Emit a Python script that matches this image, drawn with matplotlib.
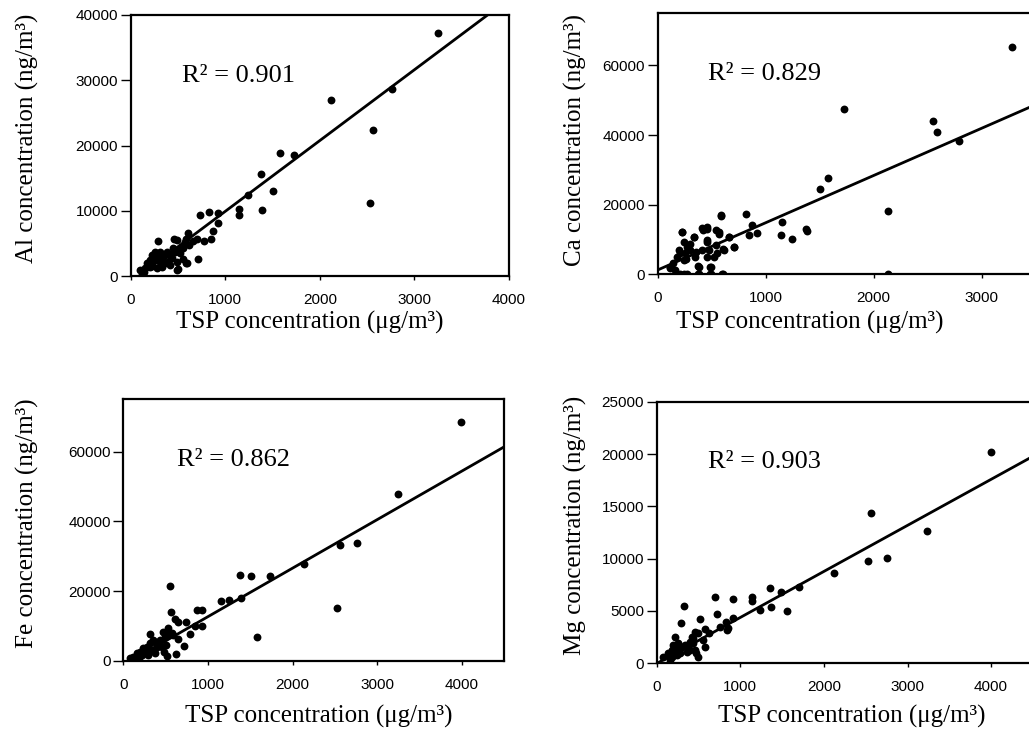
import numpy as np
import matplotlib
matplotlib.use("Agg")
import matplotlib.pyplot as plt

# ---- data (TSP in ug/m3, elements in ng/m3) ----
al_tsp = [3246, 2764, 2120, 2563, 2535, 1574, 1722, 1373, 1500, 1384, 1239, 1148,
          1141, 729, 827, 923, 923, 873, 845, 778, 708, 609, 585, 662, 292, 458,
          493, 493, 585, 549, 503, 451, 556, 99, 151, 204, 239, 275, 310, 345, 328,
          398, 433, 468, 486, 504, 539, 574, 592, 204, 169, 222, 257, 363, 275, 381,
          416, 180, 260, 300, 350, 420, 520, 620, 700, 140, 230, 320]
al_conc = [37190, 28720, 27040, 22450, 11170, 18880, 18470, 15610, 12960, 10100, 12400, 10260,
           9340, 9340, 9740, 9590, 8060, 6890, 5610, 5310, 2550, 6530, 5610, 5410, 5410, 5710,
           5510, 920, 1940, 2550, 3980, 4230, 4230, 920, 1180, 1430, 2450, 3220, 3730, 2960, 1430,
           2200, 2710, 3730, 2200, 1020, 4490, 5260, 1950, 2450, 1950, 3220, 3730, 1950, 1180, 3730,
           1690, 1800, 2700, 2300, 3200, 3000, 3500, 4800, 5600, 600, 1500, 2000]

ca_tsp = [3278, 1725, 2553, 2584, 2788, 1578, 1506, 2134, 2134, 822, 584, 1147, 1141,
          1241, 1375, 1381, 872, 841, 919, 703, 663, 544, 563, 459, 416, 459, 600, 600,
          484, 484, 375, 375, 225, 334, 241, 178, 116, 553, 224, 333, 239, 193, 178, 146,
          239, 302, 349, 271, 208, 271, 380, 411, 458, 458, 411, 473, 520, 536, 567, 582,
          489, 489, 598, 380, 458, 660, 707, 613, 162, 115, 208, 255, 300, 260, 350]
ca_conc = [65360, 47560, 44110, 40770, 38370, 27750, 24500, 18280, 0, 17320, 16750, 15120, 11390,
           10240, 12920, 12340, 14070, 11290, 11870, 7750, 10620, 12730, 11580, 13010, 12730, 9380,
           7180, 0, 2010, 0, 2490, 0, 12150, 10810, 0, 0, 2200, 6030, 12270, 10840, 9400, 7020, 5100,
           3200, 4160, 7020, 5100, 7970, 0, 0, 2240, 13240, 13530, 9890, 7020, 7020, 5100, 8460,
           12270, 17050, 2060, 0, 0, 0, 5100, 10660, 7800, 7020, 1290, 1780, 6070, 6070, 8800, 4500, 6500]

fe_tsp = [3989, 3250, 2765, 2567, 2528, 2133, 1730, 1509, 1382, 1390, 1244, 1153, 1580,
          557, 561, 877, 928, 932, 849, 790, 719, 743, 652, 612, 624, 513, 316, 533, 573,
          474, 494, 434, 395, 454, 375, 316, 276, 237, 198, 158, 118, 79, 276, 336, 375,
          506, 652, 513, 296, 217, 592, 420, 350, 250, 180, 140, 100, 480]
fe_conc = [68620, 47890, 33780, 33210, 15070, 27830, 24280, 24470, 24660, 17950, 17370, 17180, 6810,
           21400, 13920, 14680, 14680, 10080, 10080, 7770, 4320, 11040, 11040, 12000, 1920, 1440, 7770,
           9410, 7970, 8450, 7010, 6050, 4130, 4130, 5570, 5090, 4130, 3650, 2690, 2210, 1250, 770,
           2210, 3170, 2210, 4610, 6240, 7490, 1730, 1730, 7490, 5200, 6000, 3000, 1000, 500, 300, 2600]

mg_tsp = [3996, 2560, 3238, 2758, 2528, 2115, 1706, 1488, 1361, 1373, 1560, 1230, 1139,
          1139, 913, 913, 702, 718, 825, 841, 853, 754, 575, 516, 329, 290, 218, 583, 496,
          456, 627, 79, 139, 179, 218, 258, 298, 337, 377, 397, 417, 437, 456, 476, 179,
          238, 278, 159, 357, 397, 437, 496, 556, 198, 258]
mg_conc = [20160, 14390, 12600, 10020, 9820, 8640, 7300, 6790, 7150, 5390, 5040, 5100, 6350,
           5930, 6120, 4340, 6380, 4690, 3960, 3190, 3350, 3510, 3250, 4210, 5490, 3890, 2550, 1590,
           570, 3030, 2930, 640, 960, 1280, 1440, 1120, 1590, 1750, 1590, 2070, 2550, 1910, 1280,
           960, 640, 800, 960, 320, 1120, 1280, 2390, 2870, 2230, 1750, 1910]

# fitted trend lines (slope, intercept, x start, x end) and R^2 values
fit_slope = [10.85, 13.55, 13.9, 4.40]
fit_icept = [-940, 1300, -1200, -20]
fit_x0 = [100, 0, 0, 0]
fit_x1 = [4000, 4000, 4500, 4500]
r2_values = ["0.901", "0.829", "0.862", "0.903"]
elements = ["Al", "Ca", "Fe", "Mg"]

W, H = 1029, 745
SERIF = "Liberation Serif"
SANS = "Liberation Sans"


def px(x, y):
    return x / W, 1 - y / H


def make_panel(fig, box, xs, ys, k, xmax, ymax, ystep, xtick_max, xlab_pos, ylab_pos, r2_pos):
    left, top, right, bottom = box
    ax = fig.add_axes([left / W, 1 - bottom / H, (right - left) / W, (bottom - top) / H])
    ax.scatter(xs, ys, s=32, color="black", linewidths=0, zorder=3)
    lx = np.array([fit_x0[k], fit_x1[k]])
    ax.plot(lx, fit_slope[k] * lx + fit_icept[k], color="black", lw=2.0, zorder=2)
    ax.set_xlim(0, xmax)
    ax.set_ylim(0, ymax)
    ax.set_xticks(np.arange(0, xtick_max + 1, 1000))
    ax.set_yticks(np.arange(0, ymax + 1, ystep))
    for sp in ax.spines.values():
        sp.set_linewidth(1.6)
    ax.tick_params(axis="y", direction="out", length=7, width=1.0, pad=2, labelsize=11)
    ax.tick_params(axis="x", direction="out", length=3, width=1.0, pad=9, labelsize=11)
    for lab in ax.get_xticklabels() + ax.get_yticklabels():
        lab.set_family(SANS)

    fig.text(*px(*xlab_pos), "TSP concentration (\u03bcg/m\u00b3)", family=SERIF,
             fontsize=18, ha="center", va="center")
    fig.text(*px(*ylab_pos), f"{elements[k]} concentration (ng/m\u00b3)", family=SERIF,
             fontsize=18, ha="center", va="center", rotation=90)
    fig.text(*px(*r2_pos), f"R\u00b2 = {r2_values[k]}", family=SERIF,
             fontsize=19, ha="left", va="baseline")
    return ax


def main():
    fig = plt.figure(figsize=(W / 100, H / 100), dpi=100)
    fig.patch.set_facecolor("white")

    make_panel(fig, (130.7, 15, 509, 276), al_tsp, al_conc, 0, 4000, 40000, 10000, 4000,
               (310, 322), (27, 138), (181.7, 81.7))
    # right-hand panels run past the edge of the (cropped) page
    make_panel(fig, (657.7, 13, 657.7 + 4 * 108, 274.5), ca_tsp, ca_conc, 1, 4000, 75000, 20000, 3000,
               (810, 322), (575, 140), (708.3, 80))
    make_panel(fig, (123.3, 399.3, 504, 661), fe_tsp, fe_conc, 2, 4500, 75000, 20000, 4000,
               (319, 716), (27, 523), (176.7, 466))
    make_panel(fig, (656.7, 401.7, 656.7 + 4.5 * 83.6, 663.3), mg_tsp, mg_conc, 3, 4500, 25000, 5000, 4000,
               (852, 716), (575, 525), (708.3, 468.3))

    fig.savefig("out.png", dpi=100)


if __name__ == "__main__":
    main()
